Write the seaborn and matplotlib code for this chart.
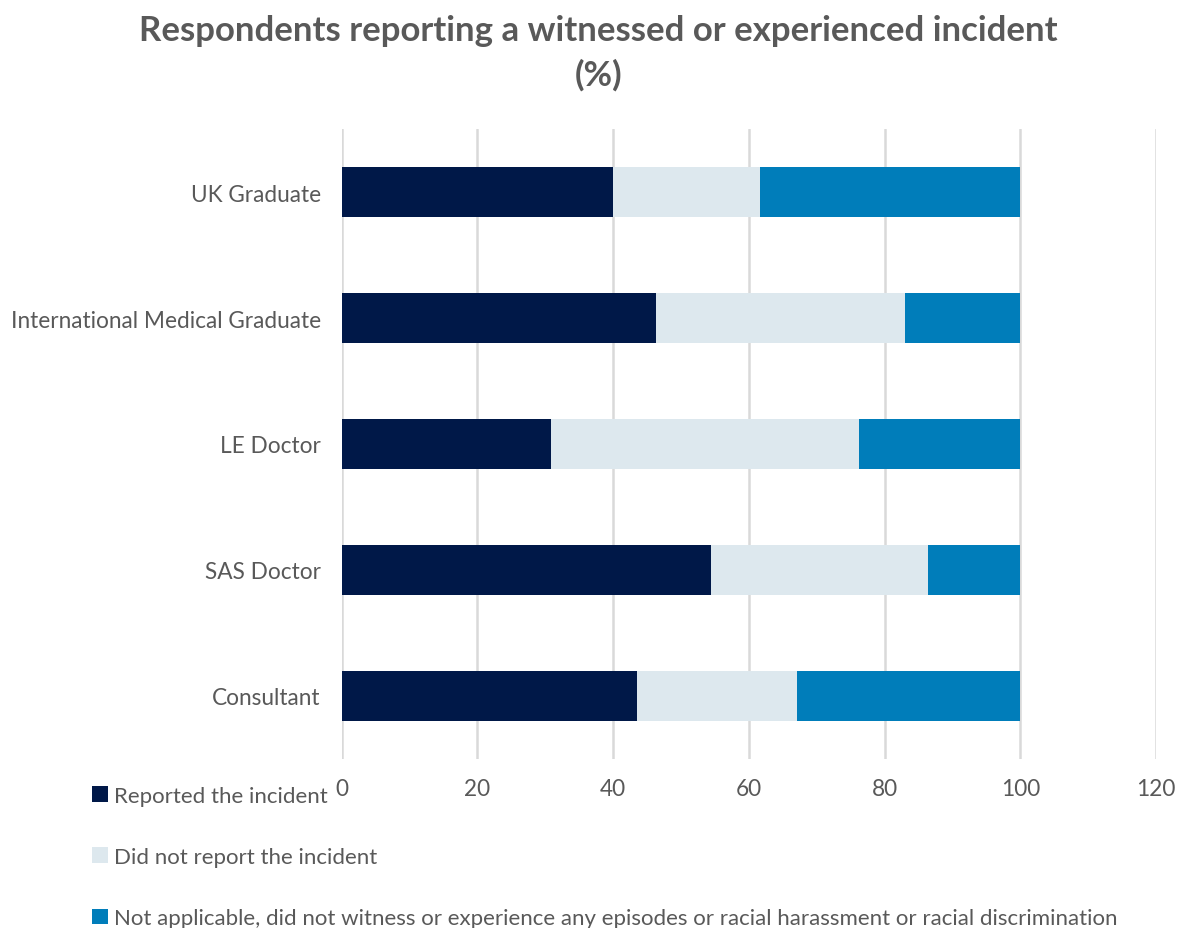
import matplotlib
matplotlib.use("Agg")
import matplotlib.pyplot as plt
from matplotlib.patches import Patch
import numpy as np
import pandas as pd
import seaborn as sns

categories = ["UK Graduate", "International Medical Graduate", "LE Doctor",
              "SAS Doctor", "Consultant"]
reported = [40.0, 46.3, 30.8, 54.5, 43.5]
not_reported = [21.6, 36.7, 45.5, 31.9, 23.6]
not_applicable = [38.4, 17.0, 23.7, 13.6, 32.9]

series_names = ["Reported the incident", "Did not report the incident",
                "Not applicable, did not witness or experience any episodes or racial harassment or racial discrimination"]
colors = ["#001848", "#dde8ee", "#007dba"]
text_color = "#595959"

sns.set_theme(style="white")
plt.rcParams["font.family"] = ["Lato", "DejaVu Sans"]

df = pd.DataFrame({
    "category": categories,
    "reported": reported,
    "not_reported": not_reported,
    "not_applicable": not_applicable,
})
# cumulative extents for stacking (widest drawn first)
df["c1"] = df["reported"]
df["c2"] = df["c1"] + df["not_reported"]
df["c3"] = df["c2"] + df["not_applicable"]

fig = plt.figure(figsize=(11.82, 9.29), dpi=100)
ax = fig.add_axes([0.289, 0.182, 0.689, 0.678])

for col, color in zip(["c3", "c2", "c1"], colors[::-1]):
    sns.barplot(data=df, y="category", x=col, orient="h", color=color,
                width=0.4, saturation=1, ax=ax, linewidth=0, zorder=3)

ax.set_xlim(0, 120)
ax.set_xticks(np.arange(0, 121, 20))
ax.set_ylim(4.5, -0.5)
ax.set_xlabel("")
ax.set_ylabel("")
ax.grid(axis="x", color="#d9d9d9", linewidth=1.8, zorder=0)
ax.grid(axis="y", visible=False)
for s in ax.spines.values():
    s.set_visible(False)
ax.tick_params(axis="both", length=0, labelsize=16.3, labelcolor=text_color)
ax.tick_params(axis="x", pad=14)
ax.tick_params(axis="y", pad=15)

fig.text(0.506, 0.984, "Respondents reporting a witnessed or experienced incident\n(%)",
         ha="center", va="top", fontsize=25, fontweight="bold", color=text_color,
         linespacing=1.45)

handles = [Patch(facecolor=c, edgecolor="none") for c in colors]
fig.legend(handles, series_names, loc="upper left", bbox_to_anchor=(0.078, 0.153),
           frameon=False, fontsize=16, labelcolor=text_color, ncol=1,
           handlelength=0.7, handleheight=0.7, handletextpad=0.3,
           labelspacing=1.85, borderaxespad=0, borderpad=0)

fig.savefig("out.png", dpi=100)
